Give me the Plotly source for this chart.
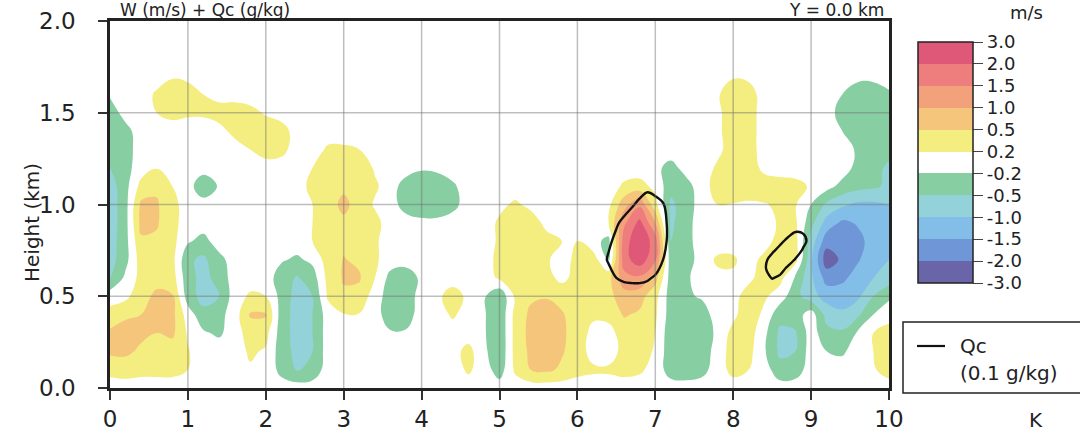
import numpy as np
import plotly.graph_objects as go

FONT = "DejaVu Sans"

# ---------------- data ----------------
# grid columns (x, km) and rows (height, km)
x_grid = [0.0, 0.2, 0.4, 0.6, 0.8, 1.0, 1.2, 1.4, 1.6, 1.8, 2.0, 2.2, 2.4, 2.6, 2.8, 3.0, 3.2,
          3.4, 3.6, 3.8, 4.0, 4.2, 4.4, 4.6, 4.8, 5.0, 5.2, 5.4, 5.6, 5.8, 6.0, 6.2, 6.4, 6.6,
          6.8, 7.0, 7.2, 7.4, 7.6, 7.8, 8.0, 8.2, 8.4, 8.6, 8.8, 9.0, 9.2, 9.4, 9.6, 9.8, 10.0]
y_grid = [0.0, 0.1, 0.2, 0.3, 0.4, 0.5, 0.6, 0.7, 0.8, 0.9, 1.0,
          1.1, 1.2, 1.3, 1.4, 1.5, 1.6, 1.7, 1.8, 1.9, 2.0]

# W (m/s): non-zero values per height row, keyed by x
w_rows = {
    2.0: {},
    1.9: {},
    1.8: {},
    1.7: {0.8: 0.15, 1.0: 0.1, 8.0: 0.15, 8.2: 0.1, 9.6: -0.1, 9.8: -0.1},
    1.6: {0.0: -0.15, 0.6: 0.25, 0.8: 0.4, 1.0: 0.35, 1.2: 0.2, 1.4: 0.05, 7.8: 0.15, 8.0: 0.4,
          8.2: 0.35, 9.4: -0.2, 9.6: -0.35, 9.8: -0.35, 10.0: -0.25},
    1.5: {0.0: -0.35, 0.2: -0.05, 0.6: 0.2, 0.8: 0.3, 1.0: 0.25, 1.2: 0.25, 1.4: 0.35, 1.6: 0.4,
          1.8: 0.3, 2.0: 0.15, 7.8: 0.1, 8.0: 0.4, 8.2: 0.35, 9.2: -0.05, 9.4: -0.3, 9.6: -0.4,
          9.8: -0.4, 10.0: -0.4},
    1.4: {0.0: -0.4, 0.2: -0.3, 1.4: 0.05, 1.6: 0.3, 1.8: 0.4, 2.0: 0.4, 2.2: 0.35, 7.8: 0.1,
          8.0: 0.4, 8.2: 0.35, 9.4: -0.2, 9.6: -0.4, 9.8: -0.4, 10.0: -0.4},
    1.3: {0.0: -0.45, 0.2: -0.3, 0.4: -0.05, 1.8: 0.2, 2.0: 0.35, 2.2: 0.3, 2.8: 0.25, 3.0: 0.25,
          3.2: 0.2, 7.8: 0.1, 8.0: 0.35, 8.2: 0.35, 9.6: -0.25, 9.8: -0.4, 10.0: -0.45},
    1.2: {0.0: -0.5, 0.2: -0.3, 0.6: 0.18, 2.6: 0.2, 2.8: 0.4, 3.0: 0.4, 3.2: 0.4, 3.4: 0.15,
          4.0: -0.15, 4.2: -0.1, 7.0: -0.1, 7.2: -0.3, 7.4: -0.05, 7.8: 0.25, 8.0: 0.4, 8.2: 0.35,
          8.4: 0.1, 9.6: -0.3, 9.8: -0.45, 10.0: -0.55},
    1.1: {0.0: -0.75, 0.2: -0.3, 0.4: 0.3, 0.6: 0.45, 0.8: 0.2, 1.2: -0.45, 1.4: -0.15, 2.6: 0.3,
          2.8: 0.4, 3.0: 0.45, 3.2: 0.4, 3.4: 0.25, 3.8: -0.35, 4.0: -0.4, 4.2: -0.4, 4.4: -0.25,
          6.6: 0.25, 6.8: 0.3, 7.0: 0.1, 7.2: -0.4, 7.4: -0.3, 7.8: 0.35, 8.0: 0.4, 8.2: 0.35,
          8.4: 0.35, 8.6: 0.35, 8.8: 0.3, 9.0: 0.15, 9.2: -0.05, 9.4: -0.3, 9.6: -0.4, 9.8: -0.45,
          10.0: -0.6},
    1.0: {0.0: -0.8, 0.2: -0.3, 0.4: 0.6, 0.6: 0.55, 0.8: 0.3, 2.6: 0.2, 2.8: 0.4, 3.0: 0.6,
          3.2: 0.4, 3.4: 0.15, 3.8: -0.35, 4.0: -0.4, 4.2: -0.4, 4.4: -0.3, 5.0: 0.1, 5.2: 0.25,
          5.4: 0.1, 6.4: 0.1, 6.6: 0.8, 6.8: 1.4, 7.0: 0.3, 7.2: -0.6, 7.4: -0.35, 7.8: 0.2,
          8.0: 0.18, 8.2: 0.15, 8.4: 0.18, 8.6: 0.24, 8.8: 0.22, 9.0: -0.2, 9.2: -0.6, 9.4: -0.9,
          9.6: -1.1, 9.8: -1.1, 10.0: -1.0},
    0.9: {0.0: -0.8, 0.2: -0.3, 0.4: 0.65, 0.6: 0.55, 0.8: 0.3, 2.6: 0.2, 2.8: 0.35, 3.0: 0.45,
          3.2: 0.4, 3.4: 0.3, 4.0: -0.1, 4.2: -0.1, 5.0: 0.25, 5.2: 0.4, 5.4: 0.35, 5.6: 0.1,
          6.4: 0.2, 6.6: 1.4, 6.8: 2.3, 7.0: 1.0, 7.2: -0.6, 7.4: -0.3, 8.6: 0.25, 8.8: 0.25,
          9.0: -0.4, 9.2: -1.2, 9.4: -1.6, 9.6: -1.45, 9.8: -1.2, 10.0: -1.1},
    0.8: {0.0: -0.75, 0.2: -0.3, 0.4: 0.45, 0.6: 0.45, 0.8: 0.3, 1.0: -0.15, 1.2: -0.3, 2.6: 0.2,
          2.8: 0.35, 3.0: 0.45, 3.2: 0.4, 3.4: 0.25, 5.0: 0.25, 5.2: 0.4, 5.4: 0.35, 5.6: 0.3,
          5.8: 0.2, 6.0: 0.2, 6.2: -0.05, 6.4: -0.3, 6.6: 1.8, 6.8: 2.7, 7.0: 1.8, 7.2: -0.5,
          7.4: -0.3, 8.6: 0.35, 8.8: 0.3, 9.0: -0.7, 9.2: -1.8, 9.4: -1.95, 9.6: -1.65,
          9.8: -1.3, 10.0: -1.1},
    0.7: {0.0: -0.7, 0.2: -0.3, 0.4: 0.35, 0.6: 0.4, 0.8: 0.3, 1.0: -0.45, 1.2: -0.6, 1.4: -0.3,
          2.2: -0.15, 2.4: -0.25, 2.6: -0.1, 2.8: 0.35, 3.0: 0.52, 3.2: 0.45, 3.4: 0.25, 5.0: 0.3,
          5.2: 0.4, 5.4: 0.4, 5.6: 0.25, 5.8: 0.0, 6.0: 0.3, 6.2: 0.35, 6.4: -0.25, 6.6: 1.8,
          6.8: 2.6, 7.0: 1.6, 7.2: -0.4, 7.4: -0.35, 7.8: 0.25, 8.0: 0.25, 8.4: 0.3, 8.6: 0.45,
          8.8: 0.3, 9.0: -0.9, 9.2: -2.6, 9.4: -1.9, 9.6: -1.55, 9.8: -1.2, 10.0: -1.0},
    0.6: {0.0: -0.6, 0.2: -0.1, 0.4: 0.3, 0.6: 0.4, 0.8: 0.35, 1.0: -0.4, 1.2: -0.65, 1.4: -0.4,
          2.2: -0.35, 2.4: -0.55, 2.6: -0.35, 2.8: 0.3, 3.0: 0.55, 3.2: 0.55, 3.4: 0.2, 3.6: -0.3,
          3.8: -0.4, 4.0: -0.1, 5.0: 0.25, 5.2: 0.35, 5.4: 0.4, 5.6: 0.3, 5.8: 0.1, 6.0: 0.3,
          6.2: 0.4, 6.4: 0.4, 6.6: 1.3, 6.8: 1.4, 7.0: 0.7, 7.2: -0.35, 7.4: -0.25, 7.8: 0.1,
          8.0: 0.12, 8.2: 0.1, 8.4: 0.35, 8.6: 0.3, 8.8: -0.25, 9.0: -0.9, 9.2: -1.7, 9.4: -1.6,
          9.6: -1.3, 9.8: -1.0, 10.0: -0.8},
    0.5: {0.0: 0.05, 0.2: 0.1, 0.4: 0.4, 0.6: 0.6, 0.8: 0.55, 1.0: -0.35, 1.2: -0.7, 1.4: -0.5,
          1.8: 0.25, 2.0: 0.2, 2.2: -0.3, 2.4: -0.7, 2.6: -0.5, 2.8: 0.25, 3.0: 0.45, 3.2: 0.4,
          3.6: -0.35, 3.8: -0.4, 4.2: 0.1, 4.4: 0.35, 4.6: 0.1, 4.8: -0.15, 5.0: -0.45, 5.2: 0.25,
          5.4: 0.45, 5.6: 0.48, 5.8: 0.4, 6.0: 0.35, 6.2: 0.35, 6.4: 0.4, 6.6: 0.8, 6.8: 0.7,
          7.0: 0.3, 7.2: -0.35, 7.4: -0.25, 7.6: -0.15, 8.0: 0.05, 8.2: 0.35, 8.4: 0.25,
          8.8: -0.4, 9.0: -0.8, 9.2: -1.2, 9.4: -1.25, 9.6: -1.1, 9.8: -0.5, 10.0: -0.25},
    0.4: {0.0: 0.3, 0.2: 0.45, 0.4: 0.5, 0.6: 0.65, 0.8: 0.65, 1.2: -0.4, 1.4: -0.3, 1.8: 0.55,
          2.0: 0.55, 2.2: -0.35, 2.4: -0.7, 2.6: -0.5, 3.0: 0.18, 3.2: 0.18, 3.6: -0.4, 3.8: -0.35,
          4.4: 0.25, 4.8: -0.15, 5.0: -0.45, 5.2: 0.3, 5.4: 0.6, 5.6: 0.7, 5.8: 0.55, 6.0: 0.35,
          6.2: 0.25, 6.4: 0.3, 6.6: 0.55, 6.8: 0.45, 7.0: 0.25, 7.2: -0.35, 7.4: -0.4, 7.6: -0.35,
          8.0: 0.1, 8.2: 0.4, 8.4: 0.1, 8.6: -0.4, 8.8: -0.35, 9.2: -0.7, 9.4: -0.9, 9.6: -0.6,
          9.8: -0.2},
    0.3: {0.0: 0.6, 0.2: 0.7, 0.4: 0.6, 0.6: 0.5, 0.8: 0.6, 1.0: 0.15, 1.2: -0.15, 1.4: -0.25,
          1.8: 0.35, 2.0: 0.3, 2.2: -0.35, 2.4: -0.7, 2.6: -0.5, 3.6: -0.15, 3.8: -0.15,
          4.8: -0.15, 5.0: -0.45, 5.2: 0.3, 5.4: 0.65, 5.6: 0.8, 5.8: 0.6, 6.0: 0.35, 6.2: 0.1,
          6.4: 0.05, 6.6: 0.35, 6.8: 0.4, 7.0: 0.2, 7.2: -0.4, 7.4: -0.45, 7.6: -0.4, 7.8: -0.1,
          8.0: 0.3, 8.2: 0.35, 8.4: -0.1, 8.6: -0.6, 8.8: -0.55, 9.2: -0.4, 9.4: -0.45,
          9.6: -0.15, 9.8: 0.2, 10.0: 0.35},
    0.2: {0.0: 0.6, 0.2: 0.6, 0.4: 0.45, 0.6: 0.35, 0.8: 0.35, 1.0: 0.22, 1.8: 0.25, 2.0: 0.15,
          2.2: -0.35, 2.4: -0.65, 2.6: -0.5, 4.4: 0.05, 4.6: 0.3, 4.8: -0.1, 5.0: -0.45, 5.2: 0.3,
          5.4: 0.6, 5.6: 0.75, 5.8: 0.55, 6.0: 0.35, 6.2: 0.05, 6.4: 0.0, 6.6: 0.3, 6.8: 0.35,
          7.0: 0.15, 7.2: -0.4, 7.4: -0.45, 7.6: -0.35, 7.8: -0.05, 8.0: 0.35, 8.2: 0.3,
          8.4: -0.15, 8.6: -0.6, 8.8: -0.5, 9.2: -0.2, 9.4: -0.25, 9.8: 0.2, 10.0: 0.4},
    0.1: {0.0: 0.3, 0.2: 0.35, 0.4: 0.3, 0.6: 0.3, 0.8: 0.3, 1.0: 0.2, 1.8: 0.15, 2.0: 0.1,
          2.2: -0.3, 2.4: -0.55, 2.6: -0.4, 4.6: 0.25, 5.0: -0.35, 5.2: 0.25, 5.4: 0.5, 5.6: 0.6,
          5.8: 0.45, 6.0: 0.3, 6.2: 0.25, 6.4: 0.25, 6.6: 0.3, 6.8: 0.25, 7.0: 0.05, 7.2: -0.35,
          7.4: -0.4, 7.6: -0.3, 8.0: 0.3, 8.2: 0.2, 8.6: -0.4, 8.8: -0.35, 9.8: 0.15, 10.0: 0.35},
    0.0: {},
}

# Qc (g/kg) around the two cloud cells
qc1_x = [6.2, 6.3, 6.4, 6.5, 6.6, 6.7, 6.8, 6.9, 7.0, 7.1, 7.2, 7.3]
qc1_y = [0.5, 0.6, 0.7, 0.8, 0.9, 1.0, 1.1]
qc1 = [
    [0, 0, 0, 0, 0, 0, 0, 0, 0, 0, 0, 0],
    [0, 0, 0.03, 0.10, 0.13, 0.14, 0.14, 0.12, 0.08, 0.02, 0, 0],
    [0, 0.03, 0.12, 0.20, 0.27, 0.32, 0.32, 0.28, 0.20, 0.10, 0.02, 0],
    [0, 0.02, 0.07, 0.14, 0.22, 0.30, 0.32, 0.30, 0.25, 0.15, 0.04, 0],
    [0, 0, 0.02, 0.08, 0.14, 0.20, 0.25, 0.25, 0.22, 0.15, 0.04, 0],
    [0, 0, 0, 0, 0.03, 0.08, 0.14, 0.18, 0.15, 0.11, 0.02, 0],
    [0, 0, 0, 0, 0, 0, 0.02, 0.06, 0.04, 0, 0, 0],
]
qc2_x = [8.3, 8.4, 8.5, 8.6, 8.7, 8.8, 8.9, 9.0, 9.1]
qc2_y = [0.55, 0.6, 0.65, 0.7, 0.75, 0.8, 0.85, 0.9]
qc2 = [
    [0, 0, 0, 0, 0, 0, 0, 0, 0],
    [0, 0.03, 0.11, 0.07, 0, 0, 0, 0, 0],
    [0, 0.08, 0.17, 0.16, 0.07, 0, 0, 0, 0],
    [0, 0.06, 0.16, 0.20, 0.18, 0.09, 0, 0, 0],
    [0, 0, 0.07, 0.15, 0.20, 0.18, 0.08, 0, 0],
    [0, 0, 0, 0.06, 0.14, 0.18, 0.14, 0.04, 0],
    [0, 0, 0, 0, 0.04, 0.10, 0.09, 0.02, 0],
    [0, 0, 0, 0, 0, 0, 0, 0, 0],
]
qc_level = 0.1

levels = [-3.0, -2.0, -1.5, -1.0, -0.5, -0.2, 0.2, 0.5, 1.0, 1.5, 2.0, 3.0]
level_labels = ["-3.0", "-2.0", "-1.5", "-1.0", "-0.5", "-0.2", "0.2", "0.5", "1.0", "1.5", "2.0", "3.0"]
band_colors = ["#6a64a9", "#6f96d6", "#82bee7", "#92d2d8", "#88cea3", "#ffffff",
               "#f4ed80", "#f5c57c", "#f2a17b", "#ee7d7d", "#df5877"]

x_ticks = [0, 1, 2, 3, 4, 5, 6, 7, 8, 9, 10]
y_ticks = [0.0, 0.5, 1.0, 1.5, 2.0]
y_tick_labels = ["0.0", "0.5", "1.0", "1.5", "2.0"]

# ---------------- build ----------------
col_index = {round(x, 1): i for i, x in enumerate(x_grid)}
W = np.zeros((len(y_grid), len(x_grid)))
for r, yv in enumerate(y_grid):
    for xv, val in w_rows[yv].items():
        W[r, col_index[round(xv, 1)]] = val

n = len(levels)
W_idx = np.interp(W, levels, np.arange(n))

cs = []
nb = len(band_colors)
for k, c in enumerate(band_colors):
    cs.append([k / nb, c])
    cs.append([(k + 1) / nb, c])

fig = go.Figure()
fig.add_trace(go.Contour(
    x=x_grid, y=y_grid, z=W_idx, zmin=0, zmax=nb, zauto=False,
    colorscale=cs,
    contours=dict(start=0, end=nb, size=1, coloring="fill", showlines=False),
    line=dict(width=0, smoothing=1.2),
    hoverinfo="skip",
    colorbar=dict(
        thickness=55, thicknessmode="pixels", len=241, lenmode="pixels",
        x=(918 - 110) / 779, xanchor="left", xpad=0,
        y=(388 - 162.5) / 367, yanchor="middle", ypad=0,
        outlinewidth=1.5, outlinecolor="#222",
        tickmode="array", tickvals=list(range(n)), ticktext=level_labels,
        ticks="outside", ticklen=10, tickwidth=1.2, tickcolor="#444",
        tickfont=dict(family=FONT, size=18, color="#222"),
    ),
))

for qx, qy, qz in [(qc1_x, qc1_y, qc1), (qc2_x, qc2_y, qc2)]:
    fig.add_trace(go.Contour(
        x=qx, y=qy, z=qz, showscale=False, hoverinfo="skip",
        colorscale=[[0, "#111"], [1, "#111"]],
        contours=dict(start=qc_level, end=qc_level, size=0.1, coloring="lines"),
        line=dict(width=2.4, smoothing=1.0, color="#111"),
    ))

shapes = []
for xv in x_ticks[1:-1]:
    shapes.append(dict(type="line", xref="x", yref="y", x0=xv, x1=xv, y0=y_ticks[0], y1=y_ticks[-1],
                       line=dict(color="rgba(110,110,110,0.45)", width=1.5), layer="above"))
for yv in y_ticks[1:-1]:
    shapes.append(dict(type="line", xref="x", yref="y", x0=x_ticks[0], x1=x_ticks[-1], y0=yv, y1=yv,
                       line=dict(color="rgba(110,110,110,0.45)", width=1.5), layer="above"))


def px_x(p):
    return (p - 110) / 779


def px_y(p):
    return (388 - p) / 367


# legend box for Qc
shapes.append(dict(type="rect", xref="paper", yref="paper", x0=px_x(903), x1=px_x(1085),
                   y0=px_y(393), y1=px_y(322), line=dict(color="#222", width=1.5),
                   fillcolor="rgba(0,0,0,0)"))
shapes.append(dict(type="line", xref="paper", yref="paper", x0=px_x(917), x1=px_x(945),
                   y0=px_y(346), y1=px_y(346), line=dict(color="#111", width=2.2)))

ann = [
    dict(text="W (m/s) + Qc (g/kg)", x=px_x(118), y=px_y(10.5), xanchor="left", yanchor="middle",
         font=dict(family=FONT, size=17, color="#222")),
    dict(text="Y = 0.0 km", x=px_x(886), y=px_y(10.5), xanchor="right", yanchor="middle",
         font=dict(family=FONT, size=17, color="#222")),
    dict(text="Height (km)", x=px_x(32), y=px_y(223), textangle=-90, xanchor="center",
         yanchor="middle", font=dict(family=FONT, size=20, color="#222")),
    dict(text="m/s", x=px_x(1026), y=px_y(13), xanchor="center", yanchor="middle",
         font=dict(family=FONT, size=18, color="#222")),
    dict(text="Qc", x=px_x(958), y=px_y(346), xanchor="left", yanchor="middle",
         font=dict(family=FONT, size=20, color="#222")),
    dict(text="(0.1 g/kg)", x=px_x(958), y=px_y(373), xanchor="left", yanchor="middle",
         font=dict(family=FONT, size=20, color="#222")),
    dict(text="K", x=px_x(1036), y=px_y(420), xanchor="center", yanchor="middle",
         font=dict(family=FONT, size=20, color="#222")),
]
for a in ann:
    a.update(xref="paper", yref="paper", showarrow=False)

axis_common = dict(showline=True, mirror=True, linecolor="#222", linewidth=2.5, ticks="outside",
                   ticklen=9, tickwidth=1.5, tickcolor="#333", showgrid=False, zeroline=False,
                   automargin=False, layer="above traces",
                   tickfont=dict(family=FONT, size=23, color="#222"))

fig.update_layout(
    width=1080, height=433, autosize=False,
    margin=dict(l=110, r=191, t=21, b=45),
    paper_bgcolor="white", plot_bgcolor="white",
    shapes=shapes, annotations=ann, showlegend=False,
    xaxis=dict(range=[0, 10], tickmode="array", tickvals=x_ticks,
               ticktext=[str(v) for v in x_ticks], **axis_common),
    yaxis=dict(range=[0, 2], tickmode="array", tickvals=y_ticks, ticktext=y_tick_labels,
               ticklabelstandoff=18, **axis_common),
)

fig.write_html("out.html")
